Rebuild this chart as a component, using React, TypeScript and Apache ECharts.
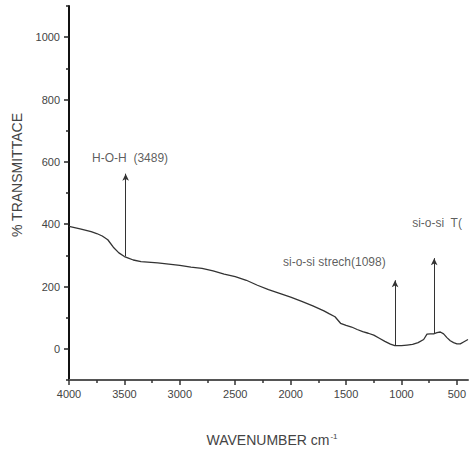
import React, { useEffect, useRef } from "react";
import * as echarts from "echarts";

const wavenumbers = [4000, 3900, 3800, 3750, 3700, 3650, 3600, 3550, 3500, 3470, 3420, 3350, 3200, 3000, 2900, 2800, 2700, 2600, 2500, 2400, 2300, 2200, 2100, 2000, 1900, 1800, 1700, 1650, 1600, 1550, 1500, 1450, 1400, 1350, 1300, 1250, 1200, 1150, 1100, 1060, 1000, 950, 900, 850, 800, 770, 740, 710, 680, 650, 620, 590, 560, 530, 500, 470, 440, 400];
const transmittance = [393, 385, 376, 370, 362, 350, 326, 308, 296, 292, 285, 280, 276, 268, 262, 258, 250, 240, 232, 220, 204, 190, 178, 166, 152, 138, 122, 112, 103, 82, 75, 70, 62, 55, 50, 44, 34, 24, 15, 10, 10, 12, 14, 20, 30, 47, 48, 48, 52, 54, 48, 36, 26, 20, 16, 16, 22, 30];

const xTickLabels = [4000, 3500, 3000, 2500, 2000, 1500, 1000, 500];
const xMinorTicks = [3750, 3250, 2750, 2250, 1750, 1250, 750];
const yTickLabels = [0, 200, 400, 600, 800, 1000];
const yMinorTicks = [-100, 100, 300, 500, 700, 900, 1100];

// arrows: [wavenumber, from (curve), to (head)]
const arrows: [number, number, number][] = [
  [3489, 297, 562],
  [1058, 10, 220],
  [705, 48, 291],
];
// annotation labels: [wavenumber (left edge), value (middle), text]
const annotations: [number, number, string][] = [
  [3792, 613, "H-O-H  (3489)"],
  [2069, 278, "si-o-si strech(1098)"],
  [904, 403, "si-o-si  T("],
];

const FONT = "'Liberation Sans', Arial, sans-serif";
const TXT = "#444";

export default function App() {
  const ref = useRef<HTMLDivElement>(null);
  useEffect(() => {
    if (!ref.current) return;
    const chart = echarts.init(ref.current, null, { renderer: "svg" });
    const xBase = {
      type: "value",
      inverse: true,
      min: 400,
      max: 4000,
      splitLine: { show: false },
    };
    const yBase = {
      type: "value",
      min: -100,
      max: 1100,
      splitLine: { show: false },
    };
    const plain = (v: number) => String(v);
    chart.setOption({
      animation: false,
      backgroundColor: "#fff",
      grid: { left: 69, right: 4, top: 6, bottom: 73, containLabel: false },
      xAxis: [
        {
          ...xBase,
          axisLine: { show: true, onZero: false, lineStyle: { color: "#555", width: 2 } },
          axisTick: { show: true, inside: false, length: 5, customValues: xTickLabels, lineStyle: { color: "#333", width: 1.5 } },
          axisLabel: { show: true, customValues: xTickLabels, formatter: plain, margin: 8, color: TXT, fontSize: 11, fontFamily: FONT },
        },
        {
          ...xBase,
          position: "bottom",
          axisLine: { show: false, onZero: false },
          axisTick: { show: true, length: 3, customValues: xMinorTicks, lineStyle: { color: "#333", width: 1.5 } },
          axisLabel: { show: false },
        },
      ],
      yAxis: [
        {
          ...yBase,
          axisLine: { show: true, onZero: false, lineStyle: { color: "#111", width: 2 } },
          axisTick: { show: true, length: 5, customValues: yTickLabels, lineStyle: { color: "#222", width: 1.5 } },
          axisLabel: { show: true, customValues: yTickLabels, formatter: plain, margin: 9, color: TXT, fontSize: 11, fontFamily: FONT },
        },
        {
          ...yBase,
          position: "left",
          axisLine: { show: false, onZero: false },
          axisTick: { show: true, length: 3, customValues: yMinorTicks, lineStyle: { color: "#222", width: 1.5 } },
          axisLabel: { show: false },
        },
      ],
      series: [
        {
          type: "line",
          xAxisIndex: 0,
          yAxisIndex: 0,
          data: wavenumbers.map((w, i) => [w, transmittance[i]]),
          showSymbol: false,
          symbol: "none",
          lineStyle: { color: "#333", width: 1.3 },
          markLine: {
            silent: true,
            symbol: ["none", "arrow"],
            symbolSize: [5, 7],
            label: { show: false },
            lineStyle: { color: "#333", width: 1, type: "solid" },
            data: arrows.map(([w, a, b]) => [
              { coord: [w, a] },
              { coord: [w, b] },
            ]),
          },
        },
        {
          type: "scatter",
          xAxisIndex: 0,
          yAxisIndex: 0,
          symbolSize: 0,
          silent: true,
          data: annotations.map(([w, v, t]) => ({ value: [w, v], name: t })),
          label: {
            show: true,
            position: "right",
            distance: 0,
            formatter: (p: any) => p.name,
            color: "#333",
            fontSize: 12,
            fontFamily: FONT,
          },
        },
      ],
      graphic: [
        {
          type: "text",
          x: 17,
          y: 175,
          rotation: Math.PI / 2,
          style: {
            text: "% TRANSMITTACE",
            fill: TXT,
            font: `14px ${FONT}`,
            align: "center",
            verticalAlign: "middle",
          },
        },
        {
          type: "text",
          x: 272,
          y: 440,
          style: {
            text: "{a|WAVENUMBER cm}{b|-1}",
            fill: TXT,
            align: "center",
            verticalAlign: "middle",
            rich: {
              a: { fontSize: 14, fontFamily: FONT, fill: TXT },
              b: { fontSize: 8, fontFamily: FONT, fill: TXT, verticalAlign: "top", padding: [0, 0, 8, 1] },
            },
          },
        },
      ],
    });
    return () => chart.dispose();
  }, []);
  return (
    <div
      ref={ref}
      style={{ position: "absolute", left: 0, top: 0, width: 472, height: 453 }}
    />
  );
}
